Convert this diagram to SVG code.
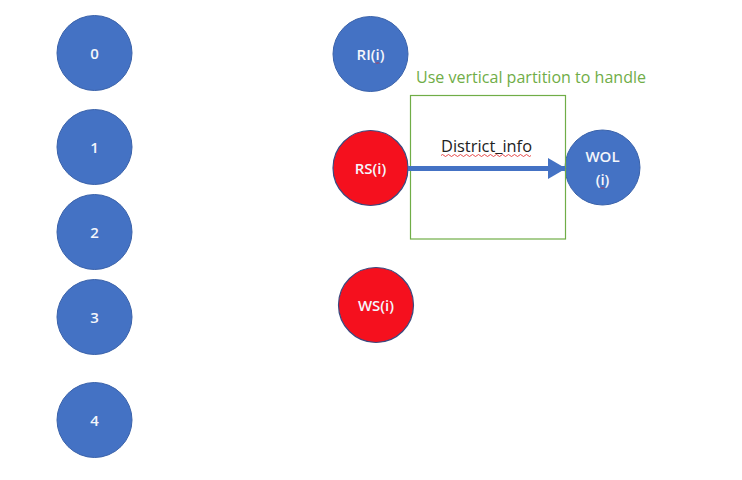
<svg xmlns="http://www.w3.org/2000/svg" width="742" height="480" viewBox="0 0 742 480">
<style>
.blue{fill:#4472C4;stroke:#3A62AA;stroke-width:1}
.red{fill:#F5101E;stroke:#3A4A80;stroke-width:1.2}
.lbl{font-family:"Open Sans","Liberation Sans",sans-serif;font-size:15px;font-weight:600;fill:#F4F6FB;text-anchor:middle}
.squig{fill:none;stroke:#E02020;stroke-width:0.8}
</style>
<defs>
<marker id="ah" markerWidth="3.6" markerHeight="4.2" refX="3.4" refY="2.1" orient="auto" markerUnits="strokeWidth">
<path d="M0,0 L3.6,2.1 L0,4.2 Z" fill="#4472C4"/>
</marker>
</defs>
<rect width="742" height="480" fill="#FFFFFF"/>
<g id="n0"><circle class="blue" cx="94.5" cy="53" r="37.5"/><text class="lbl" x="94.5" y="58.5">0</text></g>
<g id="n1"><circle class="blue" cx="94.5" cy="147" r="37.5"/><text class="lbl" x="94.5" y="152.5">1</text></g>
<g id="n2"><circle class="blue" cx="94.5" cy="232" r="37.5"/><text class="lbl" x="94.5" y="237.5">2</text></g>
<g id="n3"><circle class="blue" cx="94.5" cy="317" r="37.5"/><text class="lbl" x="94.5" y="322.5">3</text></g>
<g id="n4"><circle class="blue" cx="94.5" cy="420" r="37.5"/><text class="lbl" x="94.5" y="425.5">4</text></g>
<g id="RI"><circle class="blue" cx="370.5" cy="54" r="37.5"/><text class="lbl" x="370.5" y="59.5">RI(i)</text><path class="squig" d="M376,62.5 l1,1 l1,-1 l1,1"/></g>
<g id="RS"><circle class="red" cx="370.5" cy="168" r="37.5"/><text class="lbl" x="370.5" y="173.5">RS(i)</text></g>
<g id="WS"><circle class="red" cx="376" cy="305" r="37.5"/><text class="lbl" x="376" y="310.5">WS(i)</text></g>
<g id="WOL"><circle class="blue" cx="602.5" cy="167.5" r="37.5"/><text class="lbl" x="602.5" y="162">WOL</text><text class="lbl" x="602.5" y="185">(i)</text><path class="squig" d="M601,187.5 l1,1 l1,-1 l1,1"/></g>
<g id="partition">
<rect x="410.5" y="95.5" width="155" height="143.5" fill="none" stroke="#70AD47" stroke-width="1.2"/>
<text x="416" y="83" font-family="'Open Sans','Liberation Sans',sans-serif" font-size="16" fill="#70AD47" textLength="230" lengthAdjust="spacingAndGlyphs">Use vertical partition to handle</text>
</g>
<g id="connectors">
<line x1="408" y1="168.5" x2="565" y2="168.5" stroke="#4472C4" stroke-width="5" marker-end="url(#ah)"/>
<text x="441" y="152" font-family="'Open Sans','Liberation Sans',sans-serif" font-size="16" fill="#222222" textLength="91" lengthAdjust="spacingAndGlyphs">District_info</text>
<path class="squig" d="M441,155.5 q1.5,-2 3,0 t3,0 t3,0 t3,0 t3,0 t3,0 t3,0 t3,0 t3,0 t3,0 t3,0 t3,0 t3,0 t3,0 t3,0 t3,0 t3,0 t3,0 t3,0 t3,0 t3,0 t3,0 t3,0 t3,0 t3,0 t3,0 t3,0 t3,0 t3,0 t3,0"/>
</g>
</svg>
